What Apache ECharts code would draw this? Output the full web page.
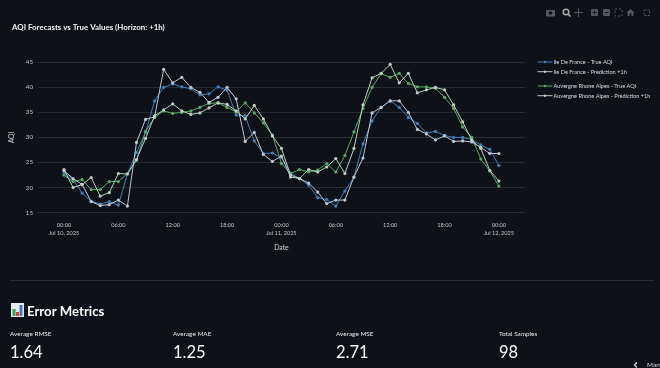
<!DOCTYPE html>
<html><head><meta charset="utf-8">
<style>html,body{margin:0;padding:0;background:#0e1117}#c{width:660px;height:368px}</style>
<script src="https://cdn.jsdelivr.net/npm/echarts@6/dist/echarts.min.js"></script>
</head><body><div id="c"></div>
<script>
const startTime = Date.UTC(2025, 6, 10, 0);
const HOUR = 3600000;
const idfTrue = [23,21.6,18.9,17.3,16.7,17.2,16.5,22.7,27,31,37.3,40,40.7,40.1,39.7,38.5,38.7,40.1,39.4,34.5,34.3,29.3,26.8,26.9,26,22.9,21.8,20.5,18,17.6,16.3,19.3,22.1,28.7,33.3,36,37.3,36,34,32.8,30.9,31.2,30.4,30,30,29.6,28.5,27.6,24.4];
const idfPred = [23.4,21.8,20.6,17.2,16.4,16.6,17.5,16.3,29,33.6,34.1,43.6,40.9,42,40,39,37,38,40,37.7,29.2,31,26.6,25.2,26.3,22.1,21.8,20.9,19.1,16.8,17.5,17.5,22.1,25.9,34.9,36,37.3,37.3,35,31.6,30.7,29.5,30.3,29.2,29.3,29.1,28,26.8,26.8];
const araTrue = [22.5,21.2,21.6,19.6,19.6,21.2,21.2,22.8,25.4,31.2,34,35.3,34.8,35,35.3,36,36.8,36.9,36,35.1,36.9,34.9,32.9,30.5,24.8,22.8,23.6,23.1,23.5,24.8,23.1,26.4,31.1,35.8,40,42.7,42,42.8,40.8,40.1,40.1,39.8,38,35.8,32.1,30,25.7,23.3,20.3];
const araPred = [23.6,20,20.6,22,18.3,19,22.8,22.7,25.6,29.8,34.3,35.5,36.7,35.3,34.6,34.9,35.9,36.9,36.6,35.3,33.7,36.4,33.7,30.3,27.8,22.5,21.8,23.6,23.1,24.1,25.8,22.8,27.8,36.5,41.9,42.8,44.6,40.9,42.8,38.9,39.5,40,39.5,36.5,33.1,29.5,27.8,23.4,21.3];
const seriesNames = ['Ile De France - True AQI','Ile De France - Prediction +1h','Auvergne Rhone Alpes - True AQI','Auvergne Rhone Alpes - Prediction +1h'];
const tickHours = [0,6,12,18,24,30,36,42,48];
const metricLabels = ['Average RMSE','Average MAE','Average MSE','Total Samples'];
const metricValues = ['1.64','1.25','2.71','98'];

const FONT = 'Lato,"Noto Sans",sans-serif';
const pairs = a => a.map((v,i)=>[i,v]);
const line = (name,data,color,z) => ({name,type:'line',data:pairs(data),smooth:false,symbol:'circle',symbolSize:3.2,z,
  lineStyle:{color,width:1},itemStyle:{color},emphasis:{disabled:true}});
const colors = ['#3f80bf','#bcc8d4','#55ab65','#b9d0bd'];
const monthFmt = new Intl.DateTimeFormat('en-US',{month:'short',day:'numeric',year:'numeric',timeZone:'UTC'});

const gfx = [];
const txt = (x,y,text,size,color,weight) => gfx.push({type:'text',x,y,silent:true,style:{text,font:`${weight||'normal'} ${size}px ${FONT}`,fill:color,verticalAlign:'middle',align:'left'}});
txt(12,27,'AQI Forecasts vs True Values (Horizon: +1h)',7.9,'#f2f3f5','bold');
gfx.push({type:'rect',silent:true,shape:{x:10,y:280,width:644,height:1},style:{fill:'#2a2d35'}});
gfx.push({type:'rect',silent:true,shape:{x:11,y:303,width:13,height:14},style:{fill:'#e8ecef'}});
gfx.push({type:'rect',silent:true,shape:{x:12.5,y:309,width:3,height:7},style:{fill:'#3fa34d'}});
gfx.push({type:'rect',silent:true,shape:{x:16,y:312,width:3,height:4},style:{fill:'#d83a34'}});
gfx.push({type:'rect',silent:true,shape:{x:19.5,y:305,width:3,height:11},style:{fill:'#3b78c8'}});
txt(27,311.5,'Error Metrics',13.2,'#fafafa','bold');
const metricX = [10,173,336,499];
metricLabels.forEach((t,i)=>{txt(metricX[i],333.5,t,6.4,'#e4e5e8');txt(metricX[i],352.5,metricValues[i],16.5,'#fafafa');});
txt(647,365,'Mana',6.5,'#d0d2d6');
gfx.push({type:'polyline',silent:true,shape:{points:[[637,362.5],[634.5,365],[637,367.5]]},style:{stroke:'#e0e0e0',lineWidth:1.2,fill:null}});
const ic='#55595f';
const ibox=(x,y,w,h,f)=>gfx.push({type:'rect',silent:true,shape:{x,y,width:w,height:h,r:1},style:{fill:f||ic}});
ibox(546,10,9,6.5); gfx.push({type:'circle',silent:true,shape:{cx:550.5,cy:13,r:1.8},style:{fill:'#0e1117'}});
gfx.push({type:'circle',silent:true,shape:{cx:566,cy:12,r:2.8},style:{fill:'none',stroke:'#a8adb3',lineWidth:1.6}});
gfx.push({type:'line',silent:true,shape:{x1:568,y1:14,x2:570.5,y2:16.5},style:{stroke:'#a8adb3',lineWidth:1.6}});
gfx.push({type:'line',silent:true,shape:{x1:578.5,y1:8,x2:578.5,y2:17},style:{stroke:ic,lineWidth:1}});
gfx.push({type:'line',silent:true,shape:{x1:574,y1:12.5,x2:583,y2:12.5},style:{stroke:ic,lineWidth:1}});
ibox(591,9,7,7); gfx.push({type:'rect',silent:true,shape:{x:592.5,y:12,width:4,height:1},style:{fill:'#0e1117'}});gfx.push({type:'rect',silent:true,shape:{x:594,y:10.5,width:1,height:4},style:{fill:'#0e1117'}});
ibox(603,9,7,7); gfx.push({type:'rect',silent:true,shape:{x:604.5,y:12,width:4,height:1},style:{fill:'#0e1117'}});
gfx.push({type:'rect',silent:true,shape:{x:615,y:9,width:7,height:7},style:{fill:'none',stroke:ic,lineWidth:1,lineDash:[2,2]}});
gfx.push({type:'polygon',silent:true,shape:{points:[[630.5,9],[634.5,12.5],[633.5,12.5],[633.5,16],[631.5,16],[631.5,13.5],[629.5,13.5],[629.5,16],[627.5,16],[627.5,12.5],[626.5,12.5]]},style:{fill:ic}});
gfx.push({type:'rect',silent:true,shape:{x:644,y:10,width:5.5,height:5.5},style:{fill:'none',stroke:ic,lineWidth:1,lineDash:[2,1.5]}});

const legendBase = {left:537,orient:'vertical',itemWidth:15,itemHeight:3,itemGap:2.7,selectedMode:false,lineStyle:{width:1},textStyle:{color:'#d8dade',fontSize:5.6,lineHeight:7,padding:[0,0,0,-4]},padding:0};
const chart = echarts.init(document.getElementById('c'),null,{width:660,height:368});
chart.setOption({
  animation:false,backgroundColor:'#0e1117',textStyle:{fontFamily:FONT},
  legend:[
    Object.assign({},legendBase,{data:seriesNames.slice(0,2),top:58.5}),
    Object.assign({},legendBase,{data:seriesNames.slice(2),top:82.5})
  ],
  grid:{left:38,top:62.3,width:487,height:150.3,containLabel:false,outerBoundsMode:'none'},
  xAxis:{type:'value',min:-2.87,max:50.88,scale:true,
    name:'Date',nameLocation:'middle',nameGap:32,nameTextStyle:{color:'#d0d2d6',fontSize:6.8},
    axisLine:{show:false},axisTick:{show:false},splitLine:{show:false},
    axisLabel:{customValues:tickHours,color:'#c4c6cb',fontSize:5.6,lineHeight:8.5,margin:8,hideOverlap:false,
      formatter:h=>{const d=new Date(startTime+h*HOUR);const s=String(d.getUTCHours()).padStart(2,'0')+':00';return d.getUTCHours()===0?s+'\n'+monthFmt.format(d):s;}}},
  yAxis:{type:'value',min:15,max:45,interval:5,name:'AQI',nameLocation:'middle',nameGap:14,nameRotate:90,nameTextStyle:{color:'#d0d2d6',fontSize:6.8},
    axisLine:{show:false},axisTick:{show:false},splitLine:{lineStyle:{color:'#262a31',width:1}},
    axisLabel:{color:'#c4c6cb',fontSize:6.2,margin:5}},
  series:[line(seriesNames[0],idfTrue,colors[0],2),line(seriesNames[2],araTrue,colors[2],3),line(seriesNames[1],idfPred,colors[1],4),line(seriesNames[3],araPred,colors[3],5)],
  graphic:{elements:gfx}
});
</script></body></html>
